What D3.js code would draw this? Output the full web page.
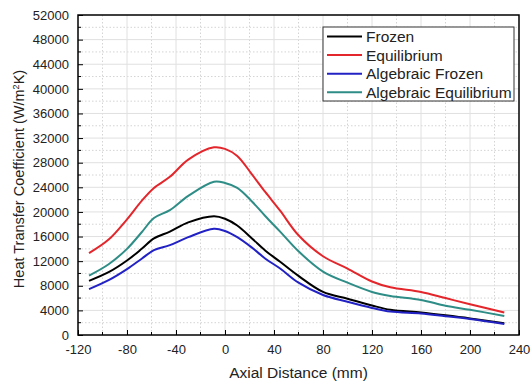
<!DOCTYPE html>
<html>
<head>
<meta charset="utf-8">
<script src="https://cdn.jsdelivr.net/npm/d3@7"></script>
<style>
  body { margin: 0; background: #fff; }
  text { font-family: Arial, "Liberation Sans", sans-serif; }
</style>
</head>
<body>
<script>
// chart data
var axial = [-111, -95, -80, -68, -58, -45, -30, -9, 0, 10, 22, 33, 45, 60, 80, 100, 120, 135, 160, 180, 200, 228];
var frozen = [8800, 10200, 12100, 14000, 15700, 16800, 18300, 19300, 18900, 17800, 15700, 13700, 11900, 9600, 7000, 5900, 4800, 4100, 3650, 3200, 2700, 1900];
var equilibrium = [13300, 15500, 18800, 21800, 23900, 25700, 28500, 30500, 30250, 29100, 26100, 23200, 20200, 16200, 12800, 10800, 8700, 7750, 7000, 6000, 5000, 3650];
var algFrozen = [7450, 8900, 10700, 12400, 13800, 14600, 15900, 17250, 16900, 15900, 14200, 12400, 10800, 8500, 6500, 5400, 4400, 3800, 3500, 3050, 2600, 1800];
var algEquilibrium = [9650, 11500, 14000, 16700, 19000, 20300, 22600, 24900, 24700, 23900, 21700, 19300, 16800, 13600, 10300, 8500, 7000, 6350, 5700, 4750, 4100, 3100];
var seriesNames = ["Frozen", "Equilibrium", "Algebraic Frozen", "Algebraic Equilibrium"];
var seriesColors = ["#000000", "#e3262b", "#2222c4", "#2e8d86"];
var xTicks = [-120, -80, -40, 0, 40, 80, 120, 160, 200, 240];
var yTicks = [0, 4000, 8000, 12000, 16000, 20000, 24000, 28000, 32000, 36000, 40000, 44000, 48000, 52000];

var w = 531, h = 383;
var margin = {top: 15, right: 12, bottom: 48, left: 78};
var iw = w - margin.left - margin.right;
var ih = h - margin.top - margin.bottom;

var svg = d3.select("body").append("svg")
  .attr("width", w)
  .attr("height", h);

var g = svg.append("g")
  .attr("transform", "translate(" + margin.left + "," + margin.top + ")");

var x = d3.scaleLinear().domain([-120, 240]).range([0, iw]);
var y = d3.scaleLinear().domain([0, 52000]).range([ih, 0]);

// minor grid (dotted) at the half steps
var xMinor = d3.range(-100, 240, 40);
var yMinor = d3.range(2000, 52000, 4000);

g.append("g").selectAll("line").data(xMinor).enter().append("line")
  .attr("x1", d => x(d)).attr("x2", d => x(d))
  .attr("y1", 0).attr("y2", ih)
  .attr("stroke", "#d4d4d4").attr("stroke-dasharray", "1.5,2");
g.append("g").selectAll("line").data(yMinor).enter().append("line")
  .attr("y1", d => y(d)).attr("y2", d => y(d))
  .attr("x1", 0).attr("x2", iw)
  .attr("stroke", "#d4d4d4").attr("stroke-dasharray", "1.5,2");

// major grid
g.append("g").selectAll("line").data(xTicks.slice(1, -1)).enter().append("line")
  .attr("x1", d => x(d)).attr("x2", d => x(d))
  .attr("y1", 0).attr("y2", ih)
  .attr("stroke", "#e0e0e0");
g.append("g").selectAll("line").data(yTicks.slice(1, -1)).enter().append("line")
  .attr("y1", d => y(d)).attr("y2", d => y(d))
  .attr("x1", 0).attr("x2", iw)
  .attr("stroke", "#e0e0e0");

// lines
var allSeries = [frozen, equilibrium, algFrozen, algEquilibrium];
var line = d3.line()
  .x((d, i) => x(axial[i]))
  .y(d => y(d))
  .curve(d3.curveCatmullRom.alpha(0.5));

g.selectAll("path.series").data(allSeries).enter().append("path")
  .attr("class", "series")
  .attr("d", d => line(d))
  .attr("fill", "none")
  .attr("stroke", (d, i) => seriesColors[i])
  .attr("stroke-width", 2);

// axes, ticks pointing inward
var fmt = d => String(d);
var xAxis = d3.axisBottom(x).tickValues(xTicks).tickFormat(fmt).tickSizeInner(-5).tickSizeOuter(0).tickPadding(10);
var yAxis = d3.axisLeft(y).tickValues(yTicks).tickFormat(fmt).tickSizeInner(-5).tickSizeOuter(0).tickPadding(9);

var gx = g.append("g").attr("transform", "translate(0," + ih + ")").call(xAxis);
var gy = g.append("g").call(yAxis);

// minor ticks
gx.selectAll(".minor").data(xMinor).enter().append("line")
  .attr("x1", d => x(d)).attr("x2", d => x(d))
  .attr("y1", 0).attr("y2", -3).attr("stroke", "#000");
gy.selectAll(".minor").data(yMinor).enter().append("line")
  .attr("y1", d => y(d)).attr("y2", d => y(d))
  .attr("x1", 0).attr("x2", 3).attr("stroke", "#000");

[gx, gy].forEach(function(a) {
  a.selectAll("text").attr("font-size", 13).attr("fill", "#222")
    .attr("font-family", "Arial, 'Liberation Sans', sans-serif");
  a.select(".domain").remove();
});

// frame
g.append("rect")
  .attr("width", iw).attr("height", ih)
  .attr("fill", "none").attr("stroke", "#000").attr("stroke-width", 1.5);

// axis titles
svg.append("text")
  .attr("x", margin.left + iw / 2)
  .attr("y", 378)
  .attr("text-anchor", "middle")
  .attr("font-size", 15.5)
  .attr("fill", "#222")
  .text("Axial Distance (mm)");

var yl = svg.append("text")
  .attr("transform", "translate(24,179) rotate(-90)")
  .attr("text-anchor", "middle")
  .attr("font-size", 14.5)
  .attr("fill", "#222");
yl.append("tspan").text("Heat Transfer Coefficient (W/m");
yl.append("tspan").attr("font-size", 9).attr("dy", -5).text("2");
yl.append("tspan").attr("dy", 5).text("K)");

// legend
var lg = svg.append("g").attr("transform", "translate(323,27)");
lg.append("rect")
  .attr("width", 191).attr("height", 74)
  .attr("fill", "#fff").attr("stroke", "#333").attr("stroke-width", 1);

var items = lg.selectAll("g.item").data(seriesNames).enter().append("g")
  .attr("class", "item")
  .attr("transform", (d, i) => "translate(0," + (9.5 + i * 18.6) + ")");
items.append("line")
  .attr("x1", 4).attr("x2", 39)
  .attr("stroke", (d, i) => seriesColors[i]).attr("stroke-width", 2);
items.append("text")
  .attr("x", 43).attr("dy", "0.35em")
  .attr("font-size", 15.5)
  .attr("fill", "#222")
  .text(d => d);
</script>
</body>
</html>
